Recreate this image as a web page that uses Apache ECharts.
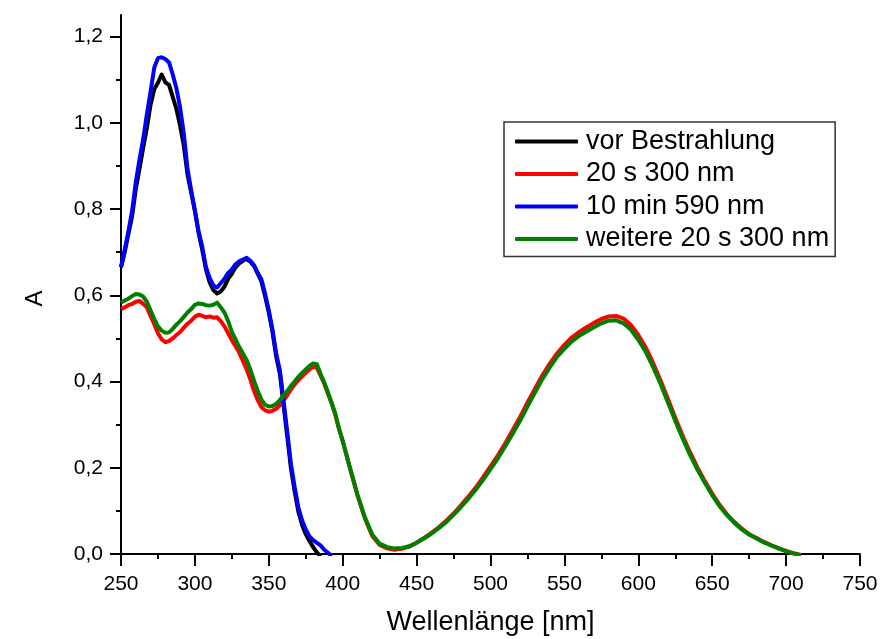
<!DOCTYPE html>
<html>
<head>
<meta charset="utf-8">
<script src="https://cdn.jsdelivr.net/npm/echarts@6/dist/echarts.min.js"></script>
<style>
  html, body { margin: 0; padding: 0; background: #fff; }
  #chart { width: 880px; height: 639px; }
</style>
</head>
<body>
<div id="chart"></div>
<script>
// Wavelength grid (nm): 2.5 nm steps in the UV part, 5 nm steps in the visible part
const wavelengths = [
  250, 252.5, 255, 257.5, 260, 262.5, 265, 267.5, 270, 272.5,
  275, 277.5, 280, 282.5, 285, 287.5, 290, 292.5, 295, 297.5,
  300, 302.5, 305, 307.5, 310, 312.5, 315, 317.5, 320, 322.5,
  325, 327.5, 330, 332.5, 335, 337.5, 340, 342.5, 345, 347.5,
  350, 352.5, 355, 357.5, 360, 362.5, 365, 367.5, 370, 372.5,
  375, 377.5, 380, 382.5, 385, 387.5, 390, 392.5, 395, 397.5,
  400, 405, 410, 415, 420, 425, 430, 435, 440, 445,
  450, 455, 460, 465, 470, 475, 480, 485, 490, 495,
  500, 505, 510, 515, 520, 525, 530, 535, 540, 545,
  550, 555, 560, 565, 570, 575, 580, 585, 590, 595,
  600, 605, 610, 615, 620, 625, 630, 635, 640, 645,
  650, 655, 660, 665, 670, 675, 680, 685, 690, 695,
  700, 705, 710
];

// Absorbance before irradiation (ends where the band drops below zero)
const absBefore = [
  0.665, 0.700, 0.742, 0.783, 0.846, 0.893, 0.942, 0.988, 1.042, 1.078,
  1.093, 1.112, 1.094, 1.088, 1.060, 1.032, 0.993, 0.947, 0.880, 0.838,
  0.795, 0.745, 0.705, 0.660, 0.630, 0.612, 0.604, 0.609, 0.620, 0.638,
  0.650, 0.665, 0.674, 0.680, 0.684, 0.678, 0.668, 0.650, 0.632, 0.598,
  0.560, 0.515, 0.458, 0.418, 0.345, 0.272, 0.198, 0.145, 0.098, 0.068,
  0.046, 0.030, 0.016, 0.004, -0.006
];

// After 20 s at 300 nm
const abs20s300 = [
  0.568, 0.572, 0.577, 0.580, 0.585, 0.587, 0.580, 0.572, 0.552, 0.533,
  0.512, 0.498, 0.491, 0.494, 0.500, 0.508, 0.515, 0.525, 0.534, 0.541,
  0.550, 0.555, 0.552, 0.549, 0.551, 0.548, 0.549, 0.540, 0.528, 0.512,
  0.496, 0.482, 0.467, 0.448, 0.428, 0.405, 0.378, 0.357, 0.341, 0.333,
  0.330, 0.332, 0.337, 0.345, 0.356, 0.368, 0.382, 0.393, 0.403, 0.412,
  0.420, 0.428, 0.434, 0.432, 0.414, 0.395, 0.372, 0.349, 0.323, 0.290,
  0.262, 0.198, 0.136, 0.083, 0.042, 0.021, 0.013, 0.010, 0.012, 0.017,
  0.026, 0.037, 0.049, 0.062, 0.077, 0.094, 0.113, 0.133, 0.154, 0.178,
  0.203, 0.229, 0.257, 0.287, 0.318, 0.351, 0.383, 0.414, 0.441, 0.465,
  0.485, 0.502, 0.515, 0.526, 0.536, 0.545, 0.551, 0.552, 0.546, 0.531,
  0.508, 0.479, 0.443, 0.403, 0.360, 0.316, 0.274, 0.236, 0.201, 0.169,
  0.140, 0.114, 0.092, 0.074, 0.059, 0.046, 0.037, 0.028, 0.020, 0.013,
  0.007, 0.002, -0.002
];

// After 10 min at 590 nm
const abs10min590 = [
  0.665, 0.705, 0.748, 0.795, 0.862, 0.915, 0.962, 1.020, 1.072, 1.128,
  1.150, 1.152, 1.148, 1.140, 1.112, 1.080, 1.035, 0.975, 0.893, 0.843,
  0.797, 0.748, 0.712, 0.665, 0.640, 0.623, 0.618, 0.628, 0.638, 0.652,
  0.660, 0.672, 0.679, 0.683, 0.687, 0.680, 0.670, 0.652, 0.637, 0.603,
  0.565, 0.520, 0.465, 0.426, 0.355, 0.283, 0.208, 0.155, 0.108, 0.078,
  0.057, 0.041, 0.032, 0.026, 0.020, 0.010, 0.003, -0.005
];

// After a further 20 s at 300 nm
const absFurther20s300 = [
  0.583, 0.588, 0.592, 0.598, 0.603, 0.602, 0.597, 0.585, 0.565, 0.545,
  0.528, 0.518, 0.513, 0.514, 0.522, 0.532, 0.540, 0.550, 0.560, 0.568,
  0.578, 0.581, 0.580, 0.577, 0.576, 0.578, 0.583, 0.572, 0.560, 0.540,
  0.515, 0.498, 0.480, 0.465, 0.450, 0.428, 0.402, 0.378, 0.358, 0.346,
  0.342, 0.343, 0.348, 0.357, 0.368, 0.378, 0.390, 0.400, 0.411, 0.420,
  0.428, 0.436, 0.442, 0.440, 0.418, 0.398, 0.375, 0.351, 0.325, 0.291,
  0.262, 0.199, 0.138, 0.085, 0.045, 0.024, 0.016, 0.013, 0.014, 0.018,
  0.026, 0.036, 0.047, 0.060, 0.074, 0.091, 0.109, 0.128, 0.149, 0.172,
  0.197, 0.222, 0.250, 0.279, 0.309, 0.342, 0.374, 0.405, 0.432, 0.457,
  0.476, 0.493, 0.506, 0.516, 0.526, 0.535, 0.541, 0.542, 0.535, 0.520,
  0.497, 0.469, 0.434, 0.395, 0.352, 0.309, 0.268, 0.230, 0.196, 0.165,
  0.136, 0.111, 0.090, 0.072, 0.057, 0.045, 0.036, 0.027, 0.020, 0.013,
  0.006, 0.001, -0.003
];

const seriesNames = ['vor Bestrahlung', '20 s 300 nm', '10 min 590 nm', 'weitere 20 s 300 nm'];
const seriesColors = ['#000000', '#ff0000', '#0000ff', '#008000'];
const seriesValues = [absBefore, abs20s300, abs10min590, absFurther20s300];

const xTickValues = [250, 300, 350, 400, 450, 500, 550, 600, 650, 700, 750];
const yTickValues = [0, 0.2, 0.4, 0.6, 0.8, 1.0, 1.2];
const yTickLabels = ['0,0', '0,2', '0,4', '0,6', '0,8', '1,0', '1,2'];
const yMinorTickValues = [0.1, 0.3, 0.5, 0.7, 0.9, 1.1];

const FONT = '"Liberation Sans", Arial, sans-serif';

function pairs(values) {
  return values.map((v, i) => [wavelengths[i], v]);
}

const chart = echarts.init(document.getElementById('chart'), null, { renderer: 'canvas' });

chart.setOption({
  animation: false,
  backgroundColor: '#ffffff',
  grid: { left: 121, right: 20, top: 15, bottom: 85, containLabel: false, outerBoundsMode: 'none' },
  legend: {
    orient: 'vertical',
    left: 504,
    top: 122,
    padding: [6, 6, 4, 11],
    itemGap: 5.5,
    itemWidth: 63,
    itemHeight: 4,
    icon: 'roundRect',
    borderColor: '#333333',
    borderWidth: 1.5,
    backgroundColor: '#ffffff',
    textStyle: { fontFamily: FONT, fontSize: 27, color: '#000', padding: [0, 0, 0, 3] },
    data: seriesNames
  },
  xAxis: {
    type: 'value',
    min: 250,
    max: 750,
    interval: 50,
    name: 'Wellenlänge [nm]',
    nameLocation: 'middle',
    nameGap: 55,
    nameTextStyle: { fontFamily: FONT, fontSize: 27, color: '#000' },
    axisLine: { show: true, onZero: false, lineStyle: { color: '#000', width: 2 } },
    axisTick: { show: true, inside: false, length: 12, lineStyle: { color: '#000', width: 2 } },
    minorTick: { show: true, splitNumber: 2, length: 5, lineStyle: { color: '#000', width: 2 } },
    axisLabel: {
      margin: 20,
      fontFamily: FONT, fontSize: 21, color: '#000',
      formatter: v => (xTickValues.indexOf(v) >= 0 ? String(v) : '')
    },
    splitLine: { show: false },
    minorSplitLine: { show: false }
  },
  yAxis: [
    {
      type: 'value',
      min: 0,
      max: 1.25,
      interval: 0.2,
      name: 'A',
      nameLocation: 'middle',
      nameRotate: 90,
      nameGap: 74,
      nameTextStyle: { fontFamily: FONT, fontSize: 24, color: '#000', padding: [0, 28, 0, 0] },
      axisLine: { show: true, onZero: false, lineStyle: { color: '#000', width: 2 } },
      axisTick: { show: true, inside: false, length: 11, customValues: yTickValues, lineStyle: { color: '#000', width: 2 } },
      axisLabel: {
        margin: 18,
        fontFamily: FONT, fontSize: 21, color: '#000',
        customValues: yTickValues,
        formatter: v => {
          const i = yTickValues.findIndex(t => Math.abs(t - v) < 1e-6);
          return i >= 0 ? yTickLabels[i] : '';
        }
      },
      splitLine: { show: false }
    },
    {
      // minor ticks of the absorbance axis
      type: 'value',
      min: 0,
      max: 1.25,
      interval: 0.1,
      position: 'left',
      axisLine: { show: false },
      axisTick: { show: true, inside: false, length: 5, customValues: yMinorTickValues, lineStyle: { color: '#000', width: 2 } },
      axisLabel: { show: false },
      splitLine: { show: false }
    }
  ],
  series: seriesNames.map((name, k) => ({
    name: name,
    type: 'line',
    xAxisIndex: 0,
    yAxisIndex: 0,
    data: pairs(seriesValues[k]),
    showSymbol: false,
    symbol: 'none',
    clip: true,
    color: seriesColors[k],
    lineStyle: { color: seriesColors[k], width: 4, join: 'round' },
    z: 2 + k
  }))
});
</script>
</body>
</html>
